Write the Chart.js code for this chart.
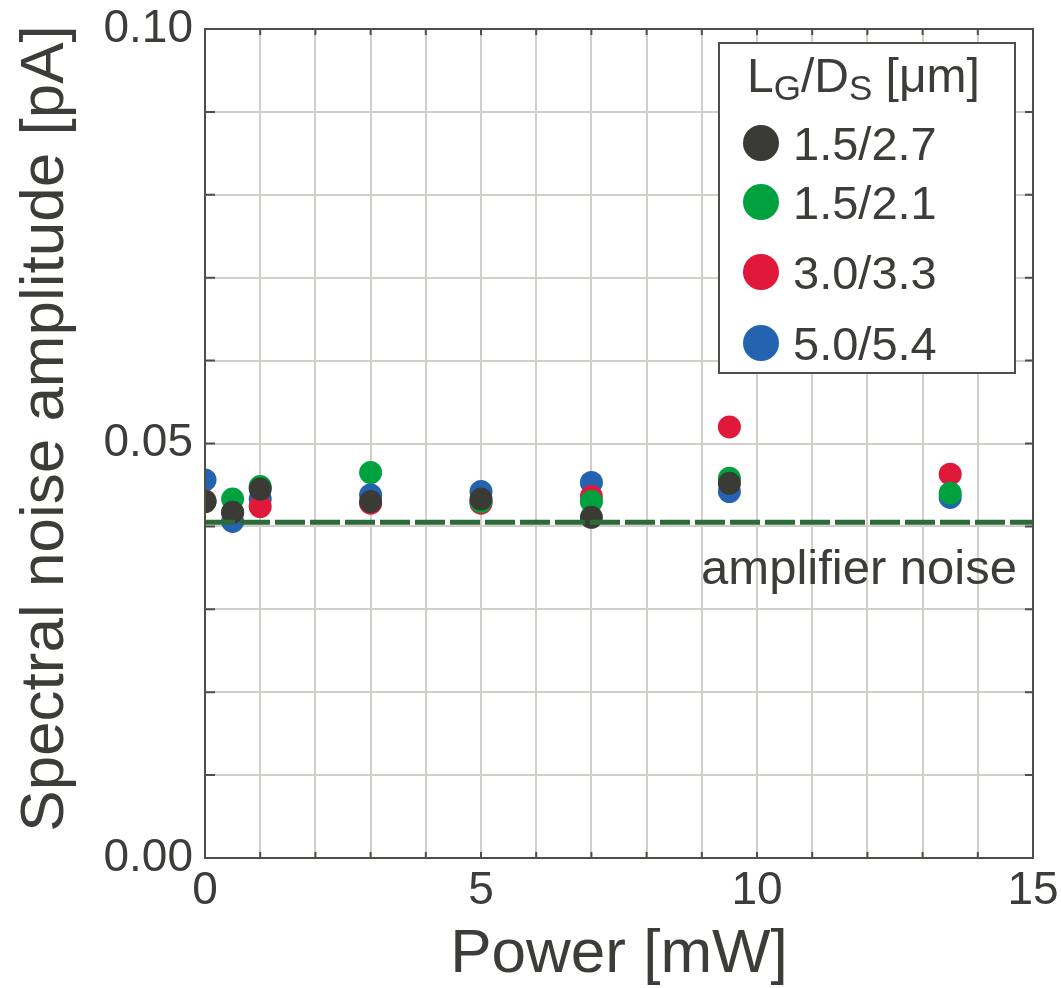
<!DOCTYPE html>
<html><head><meta charset="utf-8">
<script src="https://cdn.jsdelivr.net/npm/chart.js@4.4.1/dist/chart.umd.min.js"></script>
<style>html,body{margin:0;padding:0;background:#fff}#wrap{width:1061px;height:988px}</style>
</head><body><div id="wrap"><canvas id="c" width="1061" height="988"></canvas></div>
<script>
// ---- data ----
const powerX = [0, 0.5, 1, 3, 5, 7, 9.5, 13.5];
const series_1p5_2p7 = [0.0430, 0.0417, 0.0445, 0.0430, 0.0433, 0.0411, 0.0452, null];
const series_1p5_2p1 = [0.0430, 0.0433, 0.0448, 0.0465, 0.0430, 0.0430, 0.0458, 0.0440];
const series_3p0_3p3 = [0.0431, 0.0417, 0.0424, 0.0428, 0.0428, 0.0436, 0.0520, 0.0463];
const series_5p0_5p4 = [0.0456, 0.0406, 0.0433, 0.0438, 0.0442, 0.0453, 0.0442, 0.0435];
const seriesLabels = ['1.5/2.7', '1.5/2.1', '3.0/3.3', '5.0/5.4'];
const seriesColors = ['#3b3b36', '#00a23f', '#e0193b', '#2463b0'];
const amplifierNoise = 0.0405;
const amplifierLabel = 'amplifier noise';
const xTickLabels = [0, 5, 10, 15];
const yTickLabels = ['0.00', '0.05', '0.10'];
const xTitle = 'Power [mW]';
const yTitle = 'Spectral noise amplitude [pA]';

const FAM = '"Liberation Sans", Arial, Helvetica, sans-serif';
const TXT = '#3c3c39';
const GRID = '#d3cec9';
const FRAME = '#4f4f4a';

const allSeries = [series_1p5_2p7, series_1p5_2p1, series_3p0_3p3, series_5p0_5p4];
const toPts = ys => powerX.map((x, i) => ({x: x, y: ys[i]})).filter(p => p.y !== null);

const datasets = allSeries.map((ys, i) => ({
  type: 'scatter', label: seriesLabels[i], data: toPts(ys),
  backgroundColor: seriesColors[i], borderWidth: 0,
  pointRadius: 11.5, pointHoverRadius: 11.5, order: i + 1
}));
datasets.push({
  type: 'line', label: amplifierLabel,
  data: [{x: 0, y: amplifierNoise}, {x: 15, y: amplifierNoise}],
  borderColor: '#2b6b3a', borderWidth: 5, borderDash: [30, 5],
  pointRadius: 0, fill: false, order: 0
});

const decor = {
  id: 'decor',
  afterDraw(chart) {
    const ctx = chart.ctx, a = chart.chartArea;
    const xs = chart.scales.x, ys = chart.scales.y;
    ctx.save();
    // inner ticks
    ctx.strokeStyle = FRAME; ctx.lineWidth = 2;
    ctx.beginPath();
    for (let k = 0; k <= 10; k++) {
      const py = ys.getPixelForValue(k / 100);
      ctx.moveTo(a.left, py); ctx.lineTo(a.left + 10, py);
      ctx.moveTo(a.right, py); ctx.lineTo(a.right - 8, py);
    }
    for (let k = 0; k <= 15; k++) {
      const px = xs.getPixelForValue(k);
      ctx.moveTo(px, a.bottom); ctx.lineTo(px, a.bottom - 6);
      ctx.moveTo(px, a.top); ctx.lineTo(px, a.top + 6);
    }
    ctx.stroke();
    // frame
    ctx.strokeRect(a.left, a.top, a.right - a.left, a.bottom - a.top);

    // y title
    ctx.fillStyle = TXT;
    ctx.font = '62px ' + FAM;
    ctx.textAlign = 'center'; ctx.textBaseline = 'alphabetic';
    ctx.save();
    ctx.translate(63, (a.top + a.bottom) / 2 - 15);
    ctx.rotate(-Math.PI / 2);
    ctx.fillText(yTitle, 0, 0);
    ctx.restore();

    // amplifier noise label
    ctx.font = '49px ' + FAM;
    ctx.textAlign = 'right';
    ctx.fillText(amplifierLabel, a.right - 16, ys.getPixelForValue(amplifierNoise) + 62);

    // legend
    const L = 719, T = 43, R = 1015, B = 373;
    ctx.fillStyle = '#fff';
    ctx.fillRect(L, T, R - L, B - T);
    ctx.strokeStyle = FRAME; ctx.lineWidth = 2;
    ctx.strokeRect(L, T, R - L, B - T);
    ctx.fillStyle = TXT; ctx.textAlign = 'left';
    let x = 747; const by = 92;
    const parts = [['L', 48, 0], ['G', 35, 8], ['/D', 48, 0], ['S', 35, 8], [' [\u03bcm]', 48, 0]];
    for (const [s, sz, dy] of parts) {
      ctx.font = sz + 'px ' + FAM;
      ctx.fillText(s, x, by + dy);
      x += ctx.measureText(s).width;
    }
    const rowsY = [143, 202, 272, 343];
    ctx.font = '47px ' + FAM;
    seriesLabels.forEach((lab, i) => {
      ctx.fillStyle = seriesColors[i];
      ctx.beginPath(); ctx.arc(761, rowsY[i], 18, 0, Math.PI * 2); ctx.fill();
      ctx.fillStyle = TXT;
      ctx.fillText(lab, 793, rowsY[i] + 17);
    });
    ctx.restore();
  }
};

new Chart(document.getElementById('c'), {
  type: 'scatter',
  data: {datasets: datasets},
  options: {
    responsive: false, animation: false, devicePixelRatio: 1,
    layout: {padding: {top: 29, right: 28, left: 0, bottom: 0}},
    plugins: {legend: {display: false}, tooltip: {enabled: false}},
    scales: {
      x: {
        type: 'linear', min: 0, max: 15,
        grid: {color: GRID, lineWidth: 2, drawTicks: false},
        border: {display: false},
        ticks: {
          stepSize: 1, autoSkip: false, maxRotation: 0, padding: 6, color: TXT,
          font: {size: 46, family: FAM},
          callback: v => xTickLabels.includes(v) ? String(v) : ''
        },
        title: {display: true, text: xTitle, color: TXT, font: {size: 62, family: FAM, lineHeight: 1}, padding: {top: 0, bottom: 2}},
        afterFit: s => { s.height = 130; s.paddingLeft = 0; s.paddingRight = 0; s.paddingTop = 0; s.paddingBottom = 0; }
      },
      y: {
        type: 'linear', min: 0, max: 0.1,
        grid: {color: GRID, lineWidth: 2, drawTicks: false},
        border: {display: false},
        ticks: {
          stepSize: 0.01, autoSkip: false, padding: 12, color: TXT,
          font: {size: 46, family: FAM},
          callback: v => { const r = Math.round(v * 100); return r % 5 === 0 ? yTickLabels[r / 5] : ''; }
        },
        afterFit: s => { s.width = 205; s.paddingLeft = 0; s.paddingRight = 0; s.paddingTop = 0; s.paddingBottom = 0; }
      }
    }
  },
  plugins: [decor]
});
</script></body></html>
